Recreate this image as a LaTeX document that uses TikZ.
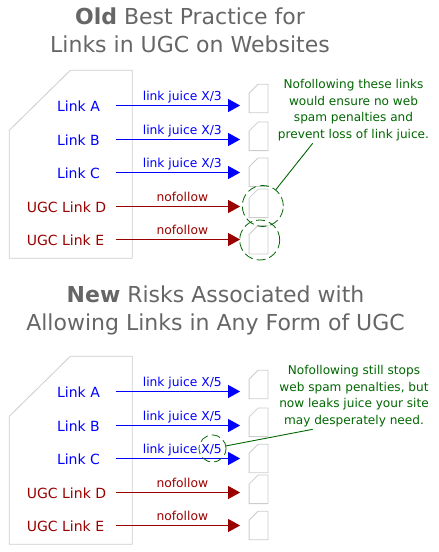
\documentclass[tikz,border=0pt]{standalone}
\usepackage{fontspec}
\setmainfont{DejaVu Sans}
\usetikzlibrary{positioning, arrows.meta}
\definecolor{titlegray}{RGB}{102,102,102}
\definecolor{pagegray}{RGB}{204,204,204}
\definecolor{darkred}{RGB}{153,0,0}
\definecolor{darkgreen}{RGB}{0,102,0}
\definecolor{linkblue}{RGB}{0,0,255}
% outline of a page with its top left corner cut off
\newcommand{\cutpage}[3]{\draw[pagegray, line width=0.8pt] ([yshift=-#3]#1.north west) -- ([xshift=#2]#1.north west) -- (#1.north east) -- (#1.south east) -- (#1.south west) -- cycle;}

\begin{document}
\begin{tikzpicture}[
        x=1pt, y=-1pt,
        title/.style={font=\fontsize{22}{28}\selectfont, text=titlegray, inner sep=0pt, anchor=base},
        site/.style={minimum width=122.5pt, minimum height=187.5pt, inner sep=0pt},
        doc/.style={minimum width=18.4pt, minimum height=28.2pt, inner sep=0pt},
        good/.style={font=\fontsize{14}{14}\selectfont, text=linkblue, inner sep=0pt, anchor=base},
        ugc/.style={font=\fontsize{14}{14}\selectfont, text=darkred, inner sep=0pt, anchor=base},
        note/.style={font=\fontsize{12.1}{16.6}\selectfont, text=darkgreen, align=center, inner sep=0pt},
        juice/.style={-{Triangle[length=12pt,width=13pt]}, draw=linkblue, line width=0.9pt, shorten >=9pt},
        nofol/.style={-{Triangle[length=12pt,width=13pt]}, draw=darkred, line width=0.9pt, shorten >=9pt},
        edgetext/.style={font=\fontsize{12.3}{12}\selectfont, midway, anchor=base, yshift=5.5pt, inner sep=0pt},
        ring/.style={circle, draw=darkgreen, line width=0.8pt, dash pattern=on 9pt off 4pt, inner sep=0pt},
        pointer/.style={draw=darkgreen, line width=0.9pt}
    ]
        \useasboundingbox (0,0) rectangle (439,552);

        % Old best practice
        \node[title] (HEAD1) at (190,24) {\textbf{Old} Best Practice for};
        \node[title] (HEAD2) at (190,52) {Links in UGC on Websites};

        \node[site] (SITE1) at (70.75,164.25) {};
        \cutpage{SITE1}{61pt}{60pt}
        \node[good] (A1) at (78.5,111) {Link A};
        \node[good] (B1) at (78.5,145) {Link B};
        \node[good] (C1) at (78.5,178) {Link C};
        \node[ugc] (D1) at (66.5,212) {UGC Link D};
        \node[ugc] (E1) at (65.5,245) {UGC Link E};

        % Pages
        \node[doc] (DOCA1) at (258.5,98.5) {};
        \node[doc] (DOCB1) at (258.5,136.3) {};
        \node[doc] (DOCC1) at (258.5,172.2) {};
        \node[doc] (DOCD1) at (258.5,203.3) {};
        \node[doc] (DOCE1) at (258.5,239.7) {};
        \cutpage{DOCA1}{9pt}{9pt}
        \cutpage{DOCB1}{9pt}{9pt}
        \cutpage{DOCC1}{9pt}{9pt}
        \cutpage{DOCD1}{9pt}{9pt}
        \cutpage{DOCE1}{9pt}{9pt}

        % Arrows
        \coordinate (OUTA1) at (115.5,105.5);
        \coordinate (OUTB1) at (115.5,139.5);
        \coordinate (OUTC1) at (115.5,172.5);
        \coordinate (OUTD1) at (115.5,206.5);
        \coordinate (OUTE1) at (115.5,239.5);
        \draw[juice] (OUTA1) -- (OUTA1 -| DOCA1.west) node[edgetext, text=linkblue] {link juice X/3};
        \draw[juice] (OUTB1) -- (OUTB1 -| DOCB1.west) node[edgetext, text=linkblue] {link juice X/3};
        \draw[juice] (OUTC1) -- (OUTC1 -| DOCC1.west) node[edgetext, text=linkblue] {link juice X/3};
        \draw[nofol] (OUTD1) -- (OUTD1 -| DOCD1.west) node[edgetext, text=darkred] {nofollow};
        \draw[nofol] (OUTE1) -- (OUTE1 -| DOCE1.west) node[edgetext, text=darkred] {nofollow};

        % Callout
        \node[ring, minimum size=41pt] (RINGD) at (262.8,206) {};
        \node[ring, minimum size=40pt] (RINGE) at (259.7,240) {};
        \node[note] (NOTE1) at (353.5,110) {Nofollowing these links\\would ensure no web\\spam penalties and\\prevent loss of link juice.};
        \coordinate (TAIL1) at (312.7,143.3);
        \draw[pointer] (TAIL1) -- (RINGD);

        % New risks
        \node[title] (HEAD3) at (215.5,302.7) {\textbf{New} Risks Associated with};
        \node[title] (HEAD4) at (215.5,330.7) {Allowing Links in Any Form of UGC};

        \node[site] (SITE2) at (70.75,450.25) {};
        \cutpage{SITE2}{61pt}{60pt}
        \node[good] (A2) at (78.5,397) {Link A};
        \node[good] (B2) at (78.5,431) {Link B};
        \node[good] (C2) at (78.5,464) {Link C};
        \node[ugc] (D2) at (66.5,498) {UGC Link D};
        \node[ugc] (E2) at (65.5,531) {UGC Link E};

        % Pages
        \node[doc] (DOCA2) at (258.5,384.5) {};
        \node[doc] (DOCB2) at (258.5,422.3) {};
        \node[doc] (DOCC2) at (258.5,458.5) {};
        \node[doc] (DOCD2) at (258.5,489.3) {};
        \node[doc] (DOCE2) at (258.5,525.5) {};
        \cutpage{DOCA2}{9pt}{9pt}
        \cutpage{DOCB2}{9pt}{9pt}
        \cutpage{DOCC2}{9pt}{9pt}
        \cutpage{DOCD2}{9pt}{9pt}
        \cutpage{DOCE2}{9pt}{9pt}

        % Arrows
        \coordinate (OUTA2) at (115.5,391.5);
        \coordinate (OUTB2) at (115.5,425.5);
        \coordinate (OUTC2) at (115.5,458.5);
        \coordinate (OUTD2) at (115.5,492.5);
        \coordinate (OUTE2) at (115.5,525.5);
        \draw[juice] (OUTA2) -- (OUTA2 -| DOCA2.west) node[edgetext, text=linkblue] {link juice X/5};
        \draw[juice] (OUTB2) -- (OUTB2 -| DOCB2.west) node[edgetext, text=linkblue] {link juice X/5};
        \draw[juice] (OUTC2) -- (OUTC2 -| DOCC2.west) node[edgetext, text=linkblue] {link juice X/5};
        \draw[nofol] (OUTD2) -- (OUTD2 -| DOCD2.west) node[edgetext, text=darkred] {nofollow};
        \draw[nofol] (OUTE2) -- (OUTE2 -| DOCE2.west) node[edgetext, text=darkred] {nofollow};

        % Callout
        \node[ring, minimum size=27pt] (RINGX) at (212.5,448.5) {};
        \node[note] (NOTE2) at (354,396) {Nofollowing still stops\\web spam penalties, but\\now leaks juice your site\\may desperately need.};
        \coordinate (TAIL2) at (312.7,429.3);
        \draw[pointer] (TAIL2) -- (RINGX);
    \end{tikzpicture}
\end{document}
